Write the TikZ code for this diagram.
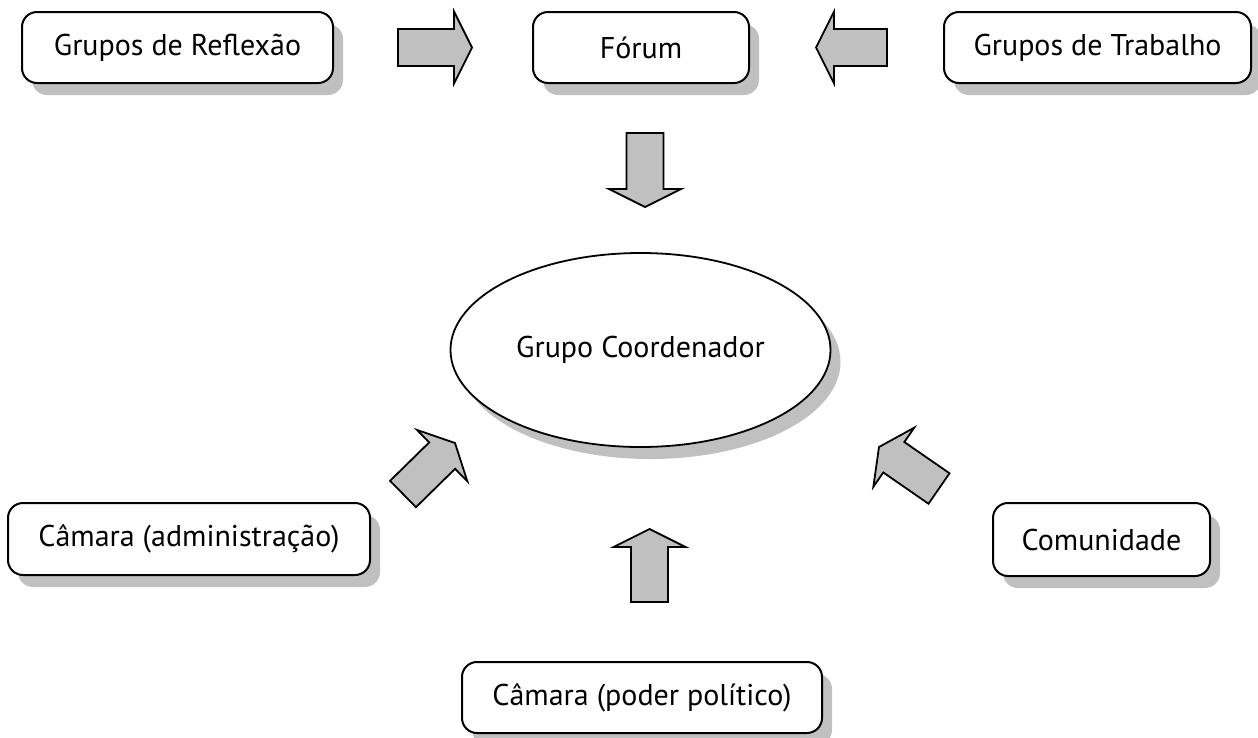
\documentclass[tikz,border=0pt]{standalone}
\usepackage{fontspec}
\setmainfont{PT Sans}
\usetikzlibrary{calc,shadows,shapes.geometric}

\definecolor{shadegray}{RGB}{192,192,192}
\definecolor{arrowgray}{RGB}{192,192,192}

\tikzset{
  label font/.style={font=\fontsize{30}{36}\selectfont},
  soft shadow/.style={drop shadow={shadow xshift=10pt, shadow yshift=-12pt, fill=shadegray, opacity=1}},
  box/.style={draw, line width=2pt, rounded corners=15pt, fill=white,
              inner sep=0pt, label font, soft shadow},
  oval/.style={ellipse, draw, line width=1.8pt, fill=white,
               inner sep=0pt, label font, soft shadow},
  blockarrow/.style={draw, line width=1.8pt, fill=arrowgray, line join=miter}
}

% Block arrow from coordinate <p>t (tail) to <p>h (tip)
\newcommand\blockarrow[1]{%
  \coordinate (#1b) at ($(#1h)!18pt!(#1t)$);
  \draw[blockarrow]
    ($(#1t)!18.5pt!90:(#1h)$) -- ($(#1b)!18.5pt!90:(#1h)$) --
    ($(#1b)!36pt!90:(#1h)$) -- (#1h) --
    ($(#1b)!36pt!-90:(#1h)$) -- ($(#1b)!18.5pt!-90:(#1h)$) --
    ($(#1t)!18.5pt!-90:(#1h)$) -- cycle;
}

\begin{document}
\begin{tikzpicture}[x=1pt, y=-1pt]
  \path[use as bounding box] (0,0) rectangle (1258,737);

  % top row
  \node[box, minimum width=311pt, minimum height=71pt] (reflexao) at (177.5,47.5) {Grupos de Reflexão};
  \node[box, minimum width=216pt, minimum height=71pt] (forum) at (641,47.5) {Fórum};
  \node[box, minimum width=307pt, minimum height=71pt] (trabalho) at (1097.5,47.5) {Grupos de Trabalho};

  % centre
  \node[oval, minimum width=380pt, minimum height=194pt] (coord) at (640.5,350) {Grupo Coordenador};

  % lower boxes
  \node[box, minimum width=362pt, minimum height=72pt] (admin) at (189,539) {Câmara (administração)};
  \node[box, minimum width=217pt, minimum height=73pt] (comunidade) at (1101.5,539.5) {Comunidade};
  \node[box, minimum width=360pt, minimum height=71pt] (politico) at (642,697.5) {Câmara (poder político)};

  % arrows
  \coordinate (art) at (398,47.5);   \coordinate (arh) at (472,47.5);
  \coordinate (alt) at (887,47.5);   \coordinate (alh) at (816,47.5);
  \coordinate (adt) at (645,133);    \coordinate (adh) at (645,207);
  \coordinate (aut) at (649.5,602);  \coordinate (auh) at (649.5,529);
  \coordinate (aat) at (403,494);    \coordinate (aah) at (455,443);
  \coordinate (act) at (939,488.5);  \coordinate (ach) at (879,447);

  \blockarrow{ar}
  \blockarrow{al}
  \blockarrow{ad}
  \blockarrow{au}
  \blockarrow{aa}
  \blockarrow{ac}
\end{tikzpicture}
\end{document}
